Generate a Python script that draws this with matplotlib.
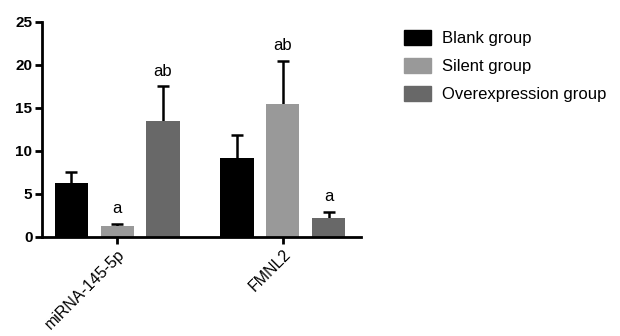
import numpy as np
import matplotlib
matplotlib.use("Agg")
import matplotlib.pyplot as plt
from matplotlib.patches import Patch

plt.rcParams["font.family"] = ["Liberation Sans", "DejaVu Sans"]

# Data
genes = ["miRNA-145-5p", "FMNL2"]
groups = ["Blank group", "Silent group", "Overexpression group"]
means = {
    "Blank group": [6.3, 9.2],
    "Silent group": [1.3, 15.5],
    "Overexpression group": [13.5, 2.2],
}
errors = {
    "Blank group": [1.3, 2.7],
    "Silent group": [0.2, 5.0],
    "Overexpression group": [4.0, 0.7],
}
letters = {
    "Blank group": ["", ""],
    "Silent group": ["a", "ab"],
    "Overexpression group": ["ab", "a"],
}
colors = {"Blank group": "#000000", "Silent group": "#999999", "Overexpression group": "#686868"}

fig = plt.figure(figsize=(6.2, 3.36), dpi=100)
ax = fig.add_axes([0.068, 0.295, 0.514, 0.64])

x = np.arange(len(genes))
offsets = [-0.277, 0.0, 0.277]
width = 0.2
cap = 0.035

for g, off in zip(groups, offsets):
    pos = x + off
    m = np.array(means[g])
    e = np.array(errors[g])
    ax.bar(pos, m, width=width, color=colors[g], zorder=2)
    # upper-only error bars, no cap at the bar top
    ax.vlines(pos, m, m + e, color="black", linewidth=1.8, zorder=1)
    ax.hlines(m + e, pos - cap, pos + cap, color="black", linewidth=1.8, zorder=1)
    for p, top, t in zip(pos, m + e, letters[g]):
        if t:
            ax.text(p, top + 0.9, t, ha="center", va="bottom", fontsize=12)

ax.set_xlim(-0.452, 1.47)
ax.set_ylim(0, 25)
ax.set_yticks([0, 5, 10, 15, 20, 25])
ax.set_xticks(x)
ax.set_xticklabels(genes, rotation=45, ha="right", rotation_mode="anchor", fontsize=11.5)
for lbl in ax.get_yticklabels():
    lbl.set_fontweight("bold")
    lbl.set_fontsize(11)
ax.spines["top"].set_visible(False)
ax.spines["right"].set_visible(False)
ax.spines["left"].set_linewidth(2)
ax.spines["bottom"].set_linewidth(2)
ax.tick_params(width=2, length=5, pad=2)

handles = [Patch(facecolor=colors[g], edgecolor=colors[g]) for g in groups]
fig.legend(handles, groups, loc="upper left", bbox_to_anchor=(0.628, 0.955), frameon=False,
           fontsize=12, handlelength=1.6, handleheight=1.0, labelspacing=0.7, handletextpad=0.65)

fig.savefig("out.png", dpi=100)
